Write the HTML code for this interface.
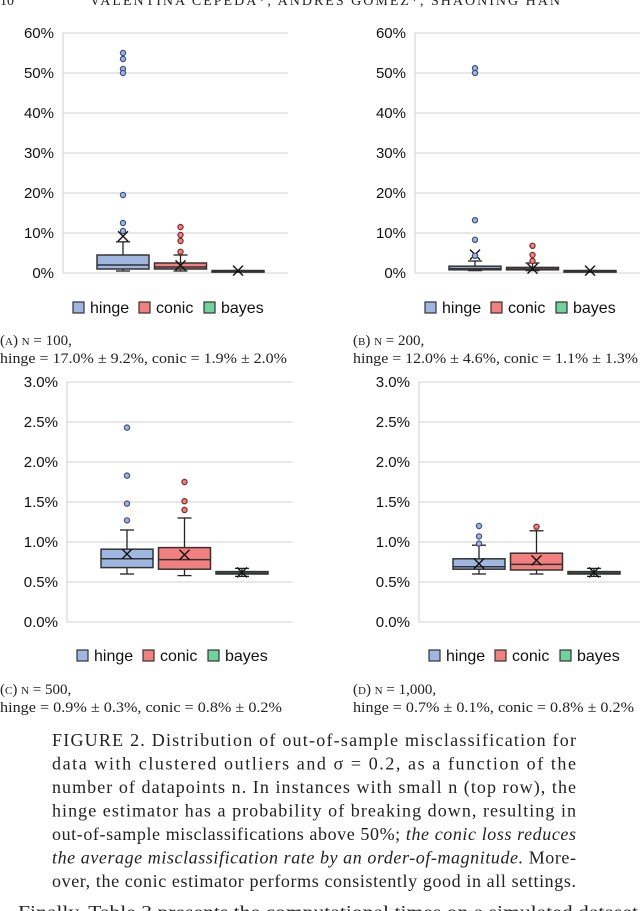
<!DOCTYPE html>
<html><head><meta charset="utf-8"><style>
html,body{margin:0;padding:0;background:#fff;width:640px;height:911px;overflow:hidden}
svg{display:block}
</style></head><body>
<svg id="fig" width="640" height="911" viewBox="0 0 640 911" xmlns="http://www.w3.org/2000/svg">
<text x="0" y="5" font-family="Liberation Serif, serif" font-size="14" fill="#222">10</text>
<text x="90" y="5" font-family="Liberation Serif, serif" font-size="14" fill="#222" textLength="470">VALENTINA CEPEDA*, ANDRÉS GÓMEZ*, SHAONING HAN</text>
</svg>
<script>
// ---- data (percent) ----
const series = ["hinge","conic","bayes"];
const ticksTop = [0,10,20,30,40,50,60];
const tickLabelsTop = ["0%","10%","20%","30%","40%","50%","60%"];
const ticksBottom = [0,0.5,1.0,1.5,2.0,2.5,3.0];
const tickLabelsBottom = ["0.0%","0.5%","1.0%","1.5%","2.0%","2.5%","3.0%"];
// each box: [low whisker, Q1, median, Q3, high whisker, mean]
const boxesA = [[0.5,1.0,2.0,4.5,7.8,9.2],[0.5,1.0,1.5,2.5,4.5,1.9],[0.6,0.6,0.6,0.6,0.6,0.6]];
const outliersA = [[55,53.5,51,50,19.5,12.5,10.5],[11.5,9.5,8,5.3],[]];
const boxesB = [[0.6,0.8,1.1,1.7,3.0,4.6],[0.6,0.8,1.0,1.4,2.5,1.1],[0.6,0.6,0.6,0.6,0.6,0.6]];
const outliersB = [[51.2,50,13.2,8.3,4.3],[6.8,4.5,3.0],[]];
const boxesC = [[0.60,0.68,0.79,0.91,1.15,0.85],[0.58,0.66,0.78,0.93,1.30,0.84],[0.57,0.60,0.61,0.63,0.67,0.62]];
const outliersC = [[2.43,1.83,1.48,1.27],[1.75,1.51,1.40],[]];
const boxesD = [[0.60,0.66,0.69,0.79,0.96,0.73],[0.60,0.65,0.72,0.86,1.14,0.77],[0.57,0.60,0.61,0.63,0.67,0.62]];
const outliersD = [[1.20,1.07,0.98],[1.19],[]];

const NS="http://www.w3.org/2000/svg";
const svg=document.getElementById('fig');
const fill={hinge:"#9fb6e0",conic:"#f47f7f",bayes:"#72d29c"};
const dot={hinge:"#3d4f7a",conic:"#7a2e2e",bayes:"#2d6b48"};
function mk(tag,attrs,parent){const e=document.createElementNS(NS,tag);for(const k in attrs)e.setAttribute(k,attrs[k]);(parent||svg).appendChild(e);return e;}

function panel(id,px,top,bottom,max,ticks,labels,boxes,outs,legY){
  const g=mk('g',{});
  
  
  const right=px+225;
  const y=v=>bottom-(v/max)*(bottom-top);
  ticks.forEach((t,i)=>{
    const l=mk('line',{x1:px,x2:right,y1:y(t),y2:y(t),stroke:"#d9d9d9","stroke-width":1.3},g);
    
    
    const tx=mk('text',{x:px-9,y:y(t)+5,"text-anchor":"end","font-family":"Liberation Sans, sans-serif","font-size":15,fill:"#111"},g);
    tx.textContent=labels[i];
    
    
  });
  const ax=mk('line',{x1:px,x2:px,y1:top,y2:bottom,stroke:"#d9d9d9","stroke-width":1.3},g);
  
  
  boxes.forEach((b,i)=>{
    const s=series[i];
    const x0=px+34+i*57.5, w=52, cx=x0+w/2;
    const bg=mk('g',{},g);
    
    
    mk('line',{x1:cx,x2:cx,y1:y(b[0]),y2:y(b[1]),stroke:"#222","stroke-width":1.3},bg);
    mk('line',{x1:cx,x2:cx,y1:y(b[3]),y2:y(b[4]),stroke:"#222","stroke-width":1.3},bg);
    mk('line',{x1:cx-7,x2:cx+7,y1:y(b[0]),y2:y(b[0]),stroke:"#222","stroke-width":1.3},bg);
    mk('line',{x1:cx-7,x2:cx+7,y1:y(b[4]),y2:y(b[4]),stroke:"#222","stroke-width":1.3},bg);
    mk('rect',{x:x0,y:y(b[3]),width:w,height:Math.max(1.5,y(b[1])-y(b[3])),fill:fill[s],stroke:"#333","stroke-width":1.5},bg);
    mk('line',{x1:x0,x2:x0+w,y1:y(b[2]),y2:y(b[2]),stroke:"#333","stroke-width":1.5},bg);
    const my=y(b[5]);
    mk('path',{d:`M${cx-5},${my-5}L${cx+5},${my+5}M${cx-5},${my+5}L${cx+5},${my-5}`,stroke:"#111","stroke-width":1.4,fill:"none"},bg);
    outs[i].forEach(v=>{
      const c=mk('circle',{cx:cx,cy:y(v),r:2.6,fill:fill[s],stroke:dot[s],"stroke-width":1.2},g);
      
      
    });
  });
  const lg=mk('g',{},g);
  
  
  const lx=px+10; const offs=[0,66,131];
  series.forEach((s,i)=>{
    const e=mk('g',{},lg);
    
    
    mk('rect',{x:lx+offs[i],y:legY-6,width:11,height:11,fill:fill[s],stroke:"#333","stroke-width":1.2},e);
    const t=mk('text',{x:lx+offs[i]+17,y:legY+5,"font-family":"Liberation Sans, sans-serif","font-size":16,fill:"#111"},e);
    t.textContent=s;
  });
}
panel('a',63,33,273,60,ticksTop,tickLabelsTop,boxesA,outliersA,308);
panel('b',415,33,273,60,ticksTop,tickLabelsTop,boxesB,outliersB,308);
panel('c',67,382,622,3.0,ticksBottom,tickLabelsBottom,boxesC,outliersC,656);
panel('d',419,382,622,3.0,ticksBottom,tickLabelsBottom,boxesD,outliersD,656);

function txt(name,x,yy,str,size,len,italic){
  const t=mk('text',{x:x,y:yy,"font-family":"Liberation Serif, serif","font-size":size,fill:"#222"});
  if(len){t.setAttribute('textLength',len);t.setAttribute('lengthAdjust','spacingAndGlyphs');}
  if(italic)t.setAttribute('font-style','italic');
  
  
  t.textContent=str;
  return t;
}
txt('caption-a-title',0,345,"(a) n = 100,",15);
txt('caption-a-stats',0,363,"hinge = 17.0% ± 9.2%, conic = 1.9% ± 2.0%",15,287);
txt('caption-b-title',353,345,"(b) n = 200,",15);
txt('caption-b-stats',353,363,"hinge = 12.0% ± 4.6%, conic = 1.1% ± 1.3%",15,285);
txt('caption-c-title',0,694,"(c) n = 500,",15);
txt('caption-c-stats',0,712,"hinge = 0.9% ± 0.3%, conic = 0.8% ± 0.2%",15,282);
txt('caption-d-title',353,694,"(d) n = 1,000,",15);
txt('caption-d-stats',353,712,"hinge = 0.7% ± 0.1%, conic = 0.8% ± 0.2%",15,281);
document.querySelectorAll('text').forEach(t=>{if(/^\([abcd]\)/.test(t.textContent))t.setAttribute('font-variant','small-caps');});

const capLines=[
 "FIGURE 2. Distribution of out-of-sample misclassification for",
 "data with clustered outliers and σ = 0.2, as a function of the",
 "number of datapoints n. In instances with small n (top row), the",
 "hinge estimator has a probability of breaking down, resulting in",
 "out-of-sample misclassifications above 50%; the conic loss reduces",
 "the average misclassification rate by an order-of-magnitude. More-",
 "over, the conic estimator performs consistently good in all settings."
];
capLines.forEach((l,i)=>{
  const t=mk('text',{x:52,y:746+i*23.5,"font-family":"Liberation Serif, serif","font-size":18,fill:"#222",textLength:524,lengthAdjust:"spacing"});
  
  
  if(i===4){
    t.appendChild(document.createTextNode("out-of-sample misclassifications above 50%; "));
    const sp=mk('tspan',{"font-style":"italic"},t);sp.textContent="the conic loss reduces";
  } else if(i===5){
    const sp=mk('tspan',{"font-style":"italic"},t);sp.textContent="the average misclassification rate by an order-of-magnitude.";
    t.appendChild(document.createTextNode(" More-"));
  } else t.textContent=l;
});
txt('body-text',18,918,"Finally, Table 3 presents the computational times on a simulated dataset",18,620);
</script>
</body></html>
